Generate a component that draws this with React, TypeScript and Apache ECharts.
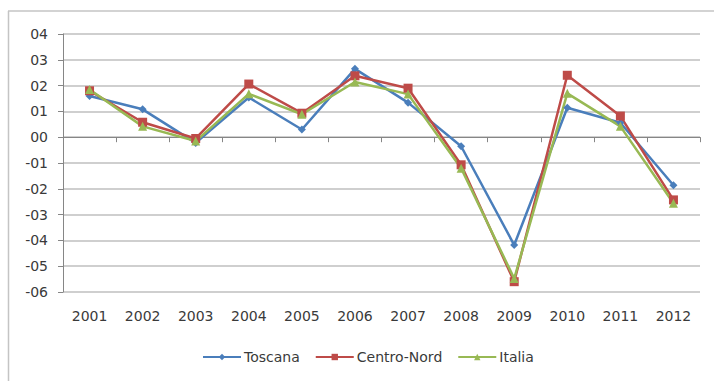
import React, { useEffect, useRef } from "react";
import * as echarts from "echarts";

// Annual growth rates, 2001–2012
const years = ["2001", "2002", "2003", "2004", "2005", "2006", "2007", "2008", "2009", "2010", "2011", "2012"];
const toscana = [0.16, 0.108, -0.022, 0.154, 0.03, 0.265, 0.134, -0.035, -0.418, 0.114, 0.056, -0.186];
const centroNord = [0.18, 0.058, -0.005, 0.206, 0.093, 0.238, 0.19, -0.107, -0.56, 0.24, 0.082, -0.243];
const italia = [0.185, 0.042, -0.015, 0.168, 0.089, 0.214, 0.167, -0.12, -0.548, 0.17, 0.042, -0.256];

const FONT = "'DejaVu Sans', Verdana, sans-serif";
const TEXT = "#3a3a3a";
const GRID = "#bfbfbf";
const AXIS = "#868686";

// 0.4 -> "04", -0.1 -> "-01"
const fmtY = (v: number) => {
  const n = Math.round(v * 10);
  return (n < 0 ? "-" : "") + "0" + Math.abs(n);
};

export default function App() {
  const ref = useRef<HTMLDivElement>(null);

  useEffect(() => {
    if (!ref.current) return;
    const chart = echarts.init(ref.current, null, { renderer: "svg" });
    const mk = (name: string, data: number[], color: string, symbol: string, size: number) => ({
      name,
      type: "line",
      data,
      xAxisIndex: 0,
      yAxisIndex: 0,
      symbol,
      symbolSize: size,
      lineStyle: { color, width: 2.5 },
      itemStyle: { color },
    });
    chart.setOption({
      animation: false,
      backgroundColor: "#ffffff",
      grid: { left: 63, right: 14, top: 34, bottom: 89 },
      graphic: [
        { type: "line", shape: { x1: 8, y1: 11, x2: 714, y2: 11 }, style: { stroke: "#c4c4c4", lineWidth: 1.5 } },
        { type: "line", shape: { x1: 8.5, y1: 11, x2: 8.5, y2: 381 }, style: { stroke: "#c4c4c4", lineWidth: 1.5 } },
      ],
      legend: {
        left: 197,
        top: 345,
        itemWidth: 38,
        itemHeight: 8,
        itemGap: 15,
        textStyle: { fontFamily: FONT, fontSize: 14, color: TEXT, padding: [0, 0, 0, -2] },
        data: ["Toscana", "Centro-Nord", "Italia"],
      },
      xAxis: [
        {
          type: "category",
          data: years,
          position: "bottom",
          axisLine: { show: false, onZero: false },
          axisTick: { show: false },
          axisLabel: { fontFamily: FONT, fontSize: 14, color: TEXT, margin: 17 },
        },
        {
          type: "category",
          data: years,
          position: "bottom",
          axisLine: { show: true, onZero: true, lineStyle: { color: AXIS, width: 1 } },
          axisTick: { show: true, length: 5, lineStyle: { color: AXIS } },
          axisLabel: { show: false },
        },
      ],
      yAxis: {
        type: "value",
        min: -0.6,
        max: 0.4,
        interval: 0.1,
        axisLine: { show: true, lineStyle: { color: AXIS, width: 1 } },
        axisTick: { show: true, length: 5, lineStyle: { color: AXIS } },
        splitLine: { show: true, lineStyle: { color: GRID, width: 1.5 } },
        axisLabel: { fontFamily: FONT, fontSize: 14, color: TEXT, margin: 15, formatter: fmtY },
      },
      series: [
        mk("Toscana", toscana, "#4a7ebb", "diamond", 8),
        mk("Centro-Nord", centroNord, "#be4b48", "rect", 9),
        mk("Italia", italia, "#98b954", "triangle", 9),
      ],
    });
    return () => chart.dispose();
  }, []);

  return (
    <div
      ref={ref}
      style={{ position: "fixed", left: 0, top: 0, width: 714, height: 381, background: "#fff" }}
    />
  );
}
